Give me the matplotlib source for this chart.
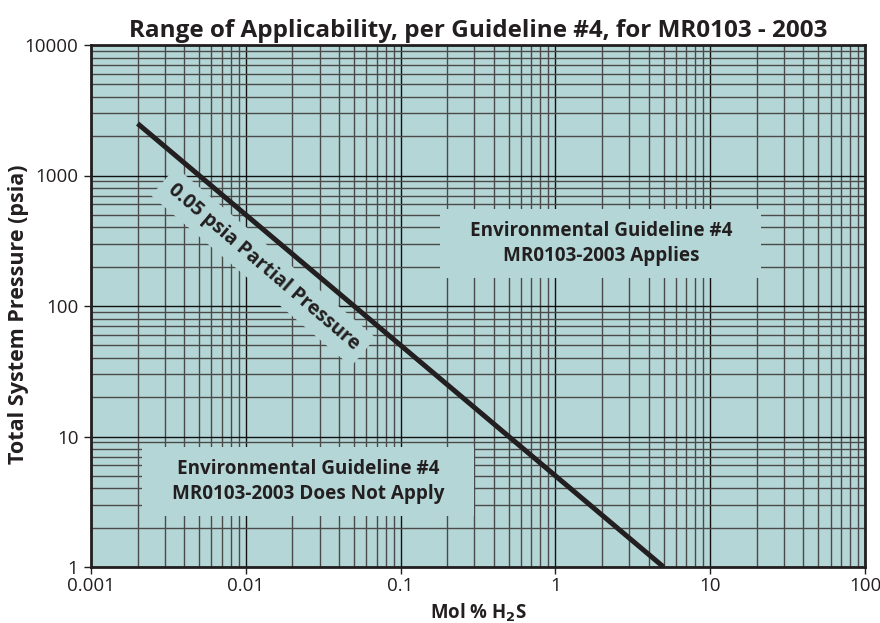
import numpy as np
import matplotlib
matplotlib.use("Agg")
import matplotlib.pyplot as plt
from matplotlib.ticker import LogLocator, NullFormatter, FixedLocator

# 0.05 psia partial pressure line: total pressure = 5 / mol%
mol_pct = [0.002, 5]
pressure = [2500, 1]

x_ticks = [0.001, 0.01, 0.1, 1, 10, 100]
x_labels = ["0.001", "0.01", "0.1", "1", "10", "100"]
y_ticks = [1, 10, 100, 1000, 10000]
y_labels = ["1", "10", "100", "1000", "10000"]

teal = "#b5d6d6"
ink = "#231f20"
plt.rcParams['font.family'] = ['Open Sans', 'DejaVu Sans']

fig = plt.figure(figsize=(8.8, 6.23), dpi=100)
ax = fig.add_axes([91/880, 1-567/623, (865-91)/880, (567-45)/623])
ax.set_facecolor(teal)
ax.set_xscale("log")
ax.set_yscale("log")
ax.set_xlim(0.001, 100)
ax.set_ylim(1, 10000)

ax.xaxis.set_major_locator(FixedLocator(x_ticks))
ax.set_xticklabels(x_labels)
ax.yaxis.set_major_locator(FixedLocator(y_ticks))
ax.set_yticklabels(y_labels)
ax.xaxis.set_minor_locator(LogLocator(base=10, subs=np.arange(2, 10), numticks=20))
ax.yaxis.set_minor_locator(LogLocator(base=10, subs=np.arange(2, 10), numticks=20))
ax.xaxis.set_minor_formatter(NullFormatter())
ax.yaxis.set_minor_formatter(NullFormatter())
ax.tick_params(which="minor", length=0)
ax.tick_params(which="major", length=5, width=1, color=ink, labelsize=13.5, labelcolor=ink,
               direction="out", pad=2)
ax.tick_params(axis="y", pad=4)

ax.grid(which="major", color="#111111", lw=1.0)
ax.grid(which="minor", color="#4a4a4a", lw=1.0)
ax.set_axisbelow(True)
for s in ax.spines.values():
    s.set_color(ink)
    s.set_linewidth(2)

ax.plot(mol_pct, pressure, color=ink, lw=3.6, solid_capstyle="butt", zorder=4)

renderer = fig.canvas.get_renderer()

def fit(t, size, line=None, vertical=False):
    # scale font so the text (or one of its lines) is `size` pixels long
    s = t.get_text()
    if line is not None:
        t.set_text(line)
    bb = t.get_window_extent(renderer)
    cur = bb.height if vertical else bb.width
    t.set_fontsize(t.get_fontsize() * size / cur)
    t.set_text(s)

rot = ax.text(0.013, 200, "0.05 psia Partial Pressure", ha="center", va="center",
              fontsize=13.5, fontweight="bold", color=ink, zorder=3,
              bbox=dict(boxstyle="square,pad=0.45", facecolor=teal, edgecolor="none"))
fit(rot, 246)
rot.set_rotation(-40.5)

box = dict(boxstyle="square,pad=1.55", facecolor=teal, edgecolor="none", mutation_aspect=0.4)
t1 = ax.text(1.97, 300, "Environmental Guideline #4\nMR0103-2003 Applies", ha="center", va="center",
             fontsize=13.5, fontweight="bold", color=ink, linespacing=1.35, bbox=box, zorder=3)
fit(t1, 263, "Environmental Guideline #4")
t2 = ax.text(0.0252, 4.5, "Environmental Guideline #4\nMR0103-2003 Does Not Apply", ha="center", va="center",
             fontsize=13.5, fontweight="bold", color=ink, linespacing=1.35, bbox=box, zorder=3)
fit(t2, 263, "Environmental Guideline #4")

title = ax.set_title("Range of Applicability, per Guideline #4, for MR0103 - 2003",
                     fontsize=17.5, fontweight="bold", color=ink, pad=6)
fit(title, 696)
xl = ax.set_xlabel("Mol % H$_\\mathbf{2}$S", fontsize=13, fontweight="bold", color=ink, va="baseline")
fit(xl, 97)
yl = ax.set_ylabel("Total System Pressure (psia)", fontsize=13, fontweight="bold", color=ink, va="center")
fit(yl, 298, vertical=True)
ax.xaxis.set_label_coords(0.5, -(619-567)/522)
ax.yaxis.set_label_coords(-(91-19)/774, (567-314)/522)

fig.savefig("out.png", dpi=100)
